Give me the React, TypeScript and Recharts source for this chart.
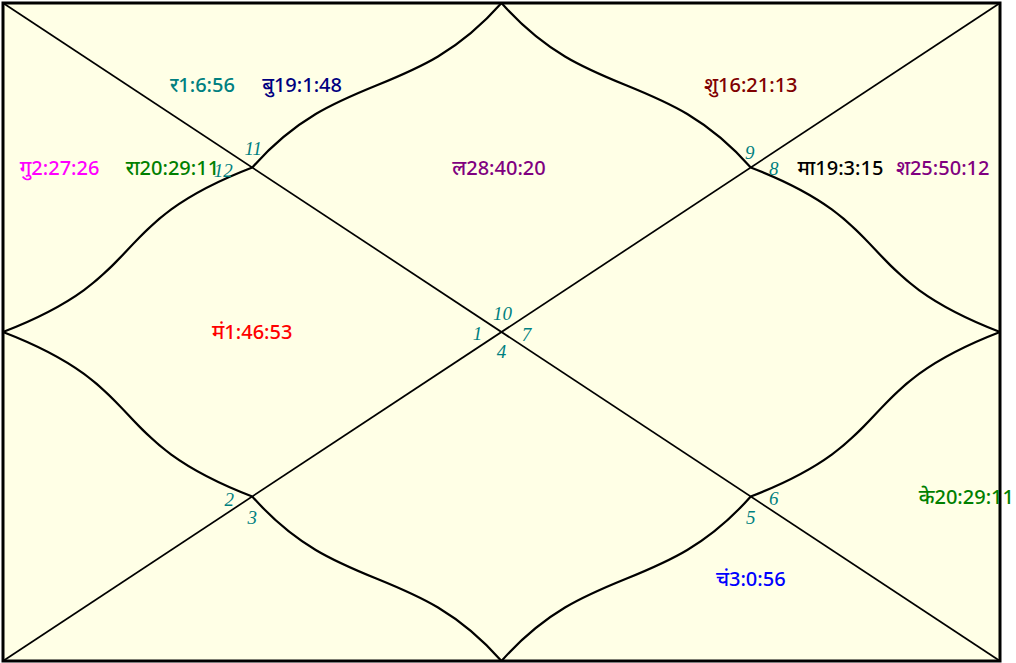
import {
  ComposedChart,
  XAxis,
  YAxis,
  CartesianGrid,
  ReferenceLine,
  ReferenceArea,
  Scatter,
} from "recharts";

// sign number standing in each house, house 1..12
const houseSigns = [10, 11, 12, 1, 2, 3, 4, 5, 6, 7, 8, 9];

// planets (abbrev, degree, house)
const planetNames = ["ल", "र", "बु", "गु", "रा", "मं", "चं", "के", "मा", "श", "शु"];
const planetDegrees = [
  "28:40:20",
  "1:6:56",
  "19:1:48",
  "2:27:26",
  "20:29:11",
  "1:46:53",
  "3:0:56",
  "20:29:11",
  "19:3:15",
  "25:50:12",
  "16:21:13",
];
const planetHouses = [1, 2, 2, 3, 3, 4, 8, 9, 11, 11, 12];

// ---- layout / style (chart units: x 0..4, y 0..4 from top) ----
const planetColors: Record<string, string> = {
  ल: "#800080",
  र: "#008080",
  बु: "#000080",
  गु: "#ff00ff",
  रा: "#008000",
  मं: "#ff0000",
  चं: "#0000ff",
  के: "#008000",
  मा: "#000000",
  श: "#800080",
  शु: "#800000",
};

const planetSpots: Record<string, [number, number]> = {
  ल: [1.99, 1],
  र: [0.8, 0.5],
  बु: [1.2, 0.5],
  गु: [0.227, 1],
  रा: [0.68, 1],
  मं: [1.0, 2],
  चं: [3.0, 3.5],
  के: [3.865, 3],
  मा: [3.36, 1],
  श: [3.77, 1],
  शु: [3.0, 0.5],
};

// vertex each house number hangs off, plus pixel nudge
const signSpots: { at: [number, number]; dx: number; dy: number }[] = [
  { at: [2, 2], dx: 1, dy: -19 },
  { at: [1, 1], dx: 1, dy: -19 },
  { at: [1, 1], dx: -29, dy: 3 },
  { at: [2, 2], dx: -24, dy: 1 },
  { at: [1, 3], dx: -23, dy: 3 },
  { at: [1, 3], dx: 0, dy: 21 },
  { at: [2, 2], dx: 0, dy: 19 },
  { at: [3, 3], dx: 0, dy: 21 },
  { at: [3, 3], dx: 23, dy: 2 },
  { at: [2, 2], dx: 25, dy: 2 },
  { at: [3, 1], dx: 23, dy: 1 },
  { at: [3, 1], dx: -1, dy: -15 },
];

const diagonals = [
  [0, 0, 4, 4],
  [4, 0, 0, 4],
];
const ring: [number, number][] = [
  [2, 0],
  [1, 1],
  [0, 2],
  [1, 3],
  [2, 4],
  [3, 3],
  [4, 2],
  [3, 1],
];

const planetData = planetNames.map((name, i) => ({
  x: planetSpots[name][0],
  y: planetSpots[name][1],
  text: name + planetDegrees[i],
  color: planetColors[name],
  house: planetHouses[i],
}));

const signData = houseSigns.map((s, i) => ({
  x: signSpots[i].at[0],
  y: signSpots[i].at[1],
  dx: signSpots[i].dx,
  dy: signSpots[i].dy,
  text: String(s),
}));

function curveShape(steep: boolean) {
  return (p: any) => {
    const dx = p.x2 - p.x1;
    const dy = p.y2 - p.y1;
    const kx = steep ? 0.35 : 0.6;
    const ky = steep ? 0.6 : 0.35;
    const d = `M${p.x1},${p.y1} C${p.x1 + kx * dx},${p.y1 + ky * dy} ${
      p.x2 - kx * dx
    },${p.y2 - ky * dy} ${p.x2},${p.y2}`;
    return <path d={d} fill="none" stroke="#000" strokeWidth={2.2} />;
  };
}

const planetLabel = (p: any) => (
  <text
    x={p.cx}
    y={p.cy + 7}
    textAnchor="middle"
    fill={p.payload.color}
    fontFamily="'Noto Sans', sans-serif"
    fontWeight={500}
    fontSize={20}
  >
    {p.payload.text}
  </text>
);

const signLabel = (p: any) => (
  <text
    x={p.cx + p.payload.dx}
    y={p.cy + p.payload.dy + 6.5}
    textAnchor="middle"
    fill="#008080"
    fontFamily="'Liberation Serif', serif"
    fontStyle="italic"
    fontSize={19}
  >
    {p.payload.text}
  </text>
);

export default function App() {
  return (
    <div style={{ position: "absolute", left: 0, top: 0 }}>
      <ComposedChart
        width={1016}
        height={663}
        margin={{ top: 3, right: 16, bottom: 2, left: 3 }}
      >
        <XAxis type="number" dataKey="x" domain={[0, 4]} hide />
        <YAxis type="number" dataKey="y" domain={[0, 4]} reversed hide />
        <CartesianGrid
          horizontal={false}
          vertical={false}
          fill="#ffffe6"
          fillOpacity={1}
          stroke="none"
        />
        {diagonals.map((d, i) => (
          <ReferenceLine
            key={`diag-${i}`}
            segment={[
              { x: d[0], y: d[1] },
              { x: d[2], y: d[3] },
            ]}
            stroke="#000"
            strokeWidth={1.7}
          />
        ))}
        {ring.map((a, i) => {
          const b = ring[(i + 1) % ring.length];
          const steep = a[1] === 0 || a[1] === 4 || b[1] === 0 || b[1] === 4;
          return (
            <ReferenceLine
              key={`curve-${i}`}
              segment={[
                { x: a[0], y: a[1] },
                { x: b[0], y: b[1] },
              ]}
              shape={curveShape(steep)}
            />
          );
        })}
        <Scatter data={signData} shape={signLabel} isAnimationActive={false} />
        <Scatter data={planetData} shape={planetLabel} isAnimationActive={false} />
        <ReferenceArea
          x1={0}
          x2={4}
          y1={0}
          y2={4}
          fill="none"
          stroke="#000"
          strokeWidth={3}
        />
      </ComposedChart>
    </div>
  );
}
